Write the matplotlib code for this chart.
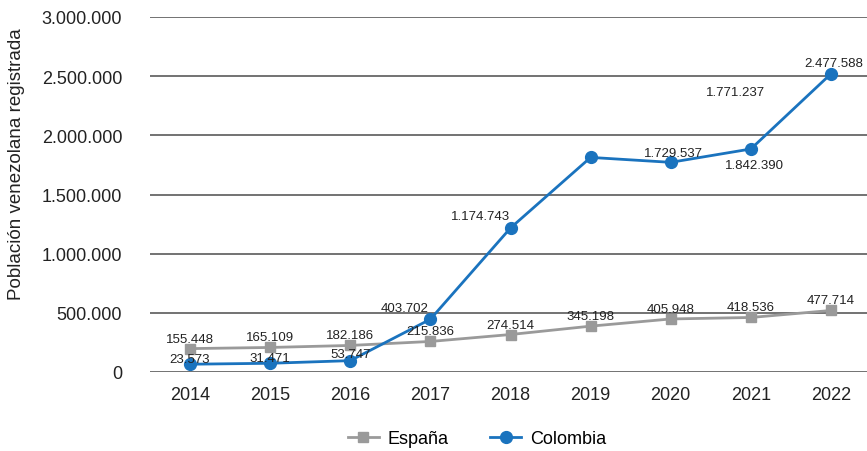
import matplotlib.pyplot as plt
import matplotlib.transforms as mtransforms

plt.rcParams['font.family'] = ['Liberation Sans', 'DejaVu Sans']

years = ['2014', '2015', '2016', '2017', '2018', '2019', '2020', '2021', '2022']
espana = [155448, 165109, 182186, 215836, 274514, 345198, 405948, 418536, 477714]
colombia = [23573, 31471, 53747, 403702, 1174743, 1771237, 1729537, 1842390, 2477588]
yticks = [0, 500000, 1000000, 1500000, 2000000, 2500000, 3000000]

# label offsets (pixels) relative to each point, as placed in the original
esp_off = [(0, 10)] * 9
col_off = [(0, 5), (0, 5), (0, 7), (-26, 11), (-30, 12), (145, 65), (3, 9), (4, -16), (3, 11)]

GRAY = '#9a9a9a'
BLUE = '#1a73be'


def fmt(v):
    return f'{v:,}'.replace(',', '.')


fig = plt.figure(figsize=(8.67, 4.52), dpi=100)
ax = fig.add_axes([150 / 867, 79 / 452, 1 - 150 / 867, 355 / 452])

# markers sit a few pixels above their values in the original chart
shift = mtransforms.offset_copy(ax.transData, fig=fig, x=0, y=5, units='dots')

x = list(range(len(years)))
ax.plot(x, espana, color=GRAY, lw=2, marker='s', ms=7, label='España', transform=shift, zorder=3)
ax.plot(x, colombia, color=BLUE, lw=2, marker='o', ms=8.5, label='Colombia', transform=shift, zorder=4)

for i, v in enumerate(espana):
    ax.annotate(fmt(v), (i, v), xycoords=shift, xytext=esp_off[i], textcoords='offset pixels',
                ha='center', va='center', fontsize=9.5, color='#222222', zorder=5)
for i, v in enumerate(colombia):
    ax.annotate(fmt(v), (i, v), xycoords=shift, xytext=col_off[i], textcoords='offset pixels',
                ha='center', va='center', fontsize=9.5, color='#222222', zorder=5)

ax.set_xlim(-0.5, 8.45)
ax.set_ylim(0, 3000000)
ax.set_xticks(x)
ax.set_xticklabels(years, fontsize=13)
ax.set_yticks(yticks)
ax.set_yticklabels([fmt(v) for v in yticks], fontsize=13)
ax.tick_params(length=0, pad=20, colors='#222222')
ax.tick_params(axis='x', pad=10)
ax.grid(axis='y', color='#5a5a5a', lw=1.2)
ax.set_axisbelow(True)
for s in ax.spines.values():
    s.set_visible(False)

ax.set_ylabel('Población venezolana registrada', fontsize=13.5, color='#222222')
ax.yaxis.set_label_coords((25 - 150) / 717, 0.589)

fig.legend(loc='center', bbox_to_anchor=(477 / 867, 1 - 440 / 452), ncol=2, frameon=False,
           fontsize=13, handlelength=1.7, columnspacing=2.3, handletextpad=0.5)

fig.savefig('out.png', dpi=100)
